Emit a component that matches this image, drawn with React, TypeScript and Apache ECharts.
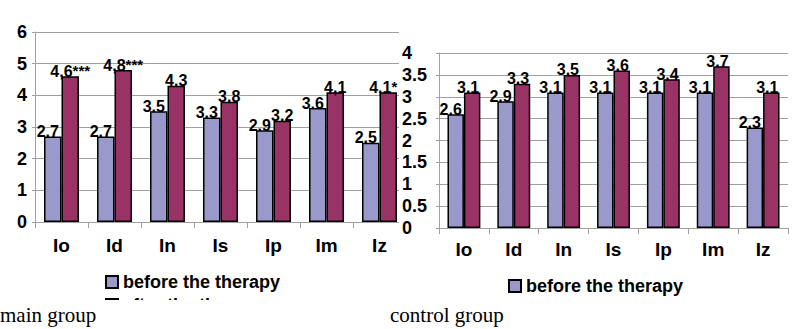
import React, { useEffect, useRef } from 'react';
import * as echarts from 'echarts';

const categories = ['Io', 'Id', 'In', 'Is', 'Ip', 'Im', 'Iz'];
const seriesNames = ['before the therapy', 'after the therapy'];
const mainBefore = [2.7, 2.7, 3.5, 3.3, 2.9, 3.6, 2.5];
const mainAfter = [4.6, 4.8, 4.3, 3.8, 3.2, 4.1, 4.1];
const mainAfterLabels = ['4,6***', '4,8***', '4.3', '3.8', '3.2', '4,1', '4,1*'];
const controlBefore = [2.6, 2.9, 3.1, 3.1, 3.1, 3.1, 2.3];
const controlAfter = [3.1, 3.3, 3.5, 3.6, 3.4, 3.7, 3.1];
const captions = ['main group', 'control group'];

const SANS = '"Liberation Sans", Arial, sans-serif';
const BLUE = '#9999cc';
const RED = '#993366';
const GRID = '#a0a0a0';

function splitStars(s: string) {
  const m = s.match(/^([^*]*)(\*+)?$/);
  if (m && m[2]) return `{n|${m[1]}}{s|${m[2]}}`;
  return `{n|${s}}`;
}

function baseAxes(max: number, interval: number, yLabel: any, xMargin: number) {
  return {
    xAxis: {
      type: 'category',
      data: categories,
      axisLine: { lineStyle: { color: GRID, width: 1 } },
      axisTick: { show: true, length: 6, lineStyle: { color: GRID } },
      axisLabel: { color: '#000', fontFamily: SANS, fontWeight: 'bold', fontSize: 19, margin: xMargin },
    },
    yAxis: {
      type: 'value',
      min: 0,
      max,
      interval,
      axisLine: { show: true, lineStyle: { color: GRID, width: 1 } },
      axisTick: { show: true, length: 3, lineStyle: { color: GRID } },
      splitLine: { lineStyle: { color: GRID, width: 1 } },
      axisLabel: yLabel,
    },
  };
}

function barSeries(name: string, data: any[], color: string, label: any) {
  return {
    name,
    type: 'bar',
    data,
    barGap: '0%',
    barCategoryGap: '34%',
    itemStyle: { color, borderColor: '#000', borderWidth: 1.5 },
    label,
  };
}

const labelBase = {
  show: true,
  position: 'top',
  distance: 0,
  color: '#000',
  fontFamily: SANS,
  fontWeight: 'bold',
  fontSize: 16,
};

export default function App() {
  const leftRef = useRef<HTMLDivElement>(null);
  const rightRef = useRef<HTMLDivElement>(null);

  useEffect(() => {
    const left = echarts.init(leftRef.current!, undefined, { renderer: 'svg' });
    const right = echarts.init(rightRef.current!, undefined, { renderer: 'svg' });

    const legendText = { color: '#000', fontFamily: SANS, fontWeight: 'bold', fontSize: 18, lineHeight: 18 };

    // keep the last label inside the clipped area
    const mainAfterData = mainAfter.map((v, i) =>
      i === mainAfter.length - 1 ? { value: v, label: { offset: [-5, 3] } } : v
    );

    left.setOption({
      animation: false,
      grid: { left: 35, top: 32, width: 371, height: 190 },
      ...baseAxes(6, 1, { color: '#000', fontFamily: SANS, fontWeight: 'bold', fontSize: 18, margin: 8 }, 14),
      legend: {
        orient: 'vertical',
        left: 105,
        top: 273,
        padding: 0,
        itemWidth: 12,
        itemHeight: 12,
        itemGap: 5,
        icon: 'rect',
        data: seriesNames,
        textStyle: legendText,
      },
      series: [
        barSeries(seriesNames[0], mainBefore, BLUE, { ...labelBase, offset: [-5, 3] }),
        barSeries(seriesNames[1], mainAfterData, RED, {
          ...labelBase,
          offset: [0, 3],
          formatter: (p: any) => splitStars(mainAfterLabels[p.dataIndex]),
          rich: {
            n: { fontFamily: SANS, fontWeight: 'bold', fontSize: 16, color: '#000' },
            s: { fontFamily: SANS, fontWeight: 'bold', fontSize: 15, color: '#000', verticalAlign: 'top' },
          },
        }),
      ],
      graphic: [
        { type: 'rect', z: 100, shape: { x: 0, y: 300, width: 420, height: 29 }, style: { fill: '#fff' } },
      ],
    });

    right.setOption({
      animation: false,
      grid: { left: 38, top: 53, width: 351, height: 175 },
      ...baseAxes(4, 0.5, { color: '#000', fontFamily: SANS, fontWeight: 'bold', fontSize: 18, margin: 37, align: 'left' }, 12),
      legend: {
        orient: 'vertical',
        left: 109,
        top: 277,
        padding: 0,
        itemWidth: 12,
        itemHeight: 12,
        icon: 'rect',
        data: [seriesNames[0]],
        textStyle: legendText,
      },
      series: [
        barSeries(seriesNames[0], controlBefore, BLUE, { ...labelBase, offset: [-5, 3] }),
        barSeries(seriesNames[1], controlAfter, RED, { ...labelBase, offset: [-4, 3] }),
      ],
    });

    return () => {
      left.dispose();
      right.dispose();
    };
  }, []);

  const captionStyle: React.CSSProperties = {
    position: 'absolute',
    top: 305,
    fontFamily: '"Liberation Serif", "Times New Roman", serif',
    fontSize: 21,
    lineHeight: '21px',
    color: '#000',
    whiteSpace: 'nowrap',
    zIndex: 10,
  };

  return (
    <div style={{ position: 'absolute', left: 0, top: 0, width: 800, height: 329, background: '#fff', overflow: 'hidden' }}>
      <div style={{ position: 'absolute', left: 0, top: 0, width: 399, height: 329, overflow: 'hidden' }}>
        <div ref={leftRef} style={{ width: 420, height: 329 }} />
      </div>
      <div style={{ position: 'absolute', left: 399, top: 0, width: 401, height: 329 }}>
        <div ref={rightRef} style={{ width: 401, height: 329 }} />
      </div>
      <div style={{ ...captionStyle, left: 0 }}>{captions[0]}</div>
      <div style={{ ...captionStyle, left: 390 }}>{captions[1]}</div>
    </div>
  );
}
